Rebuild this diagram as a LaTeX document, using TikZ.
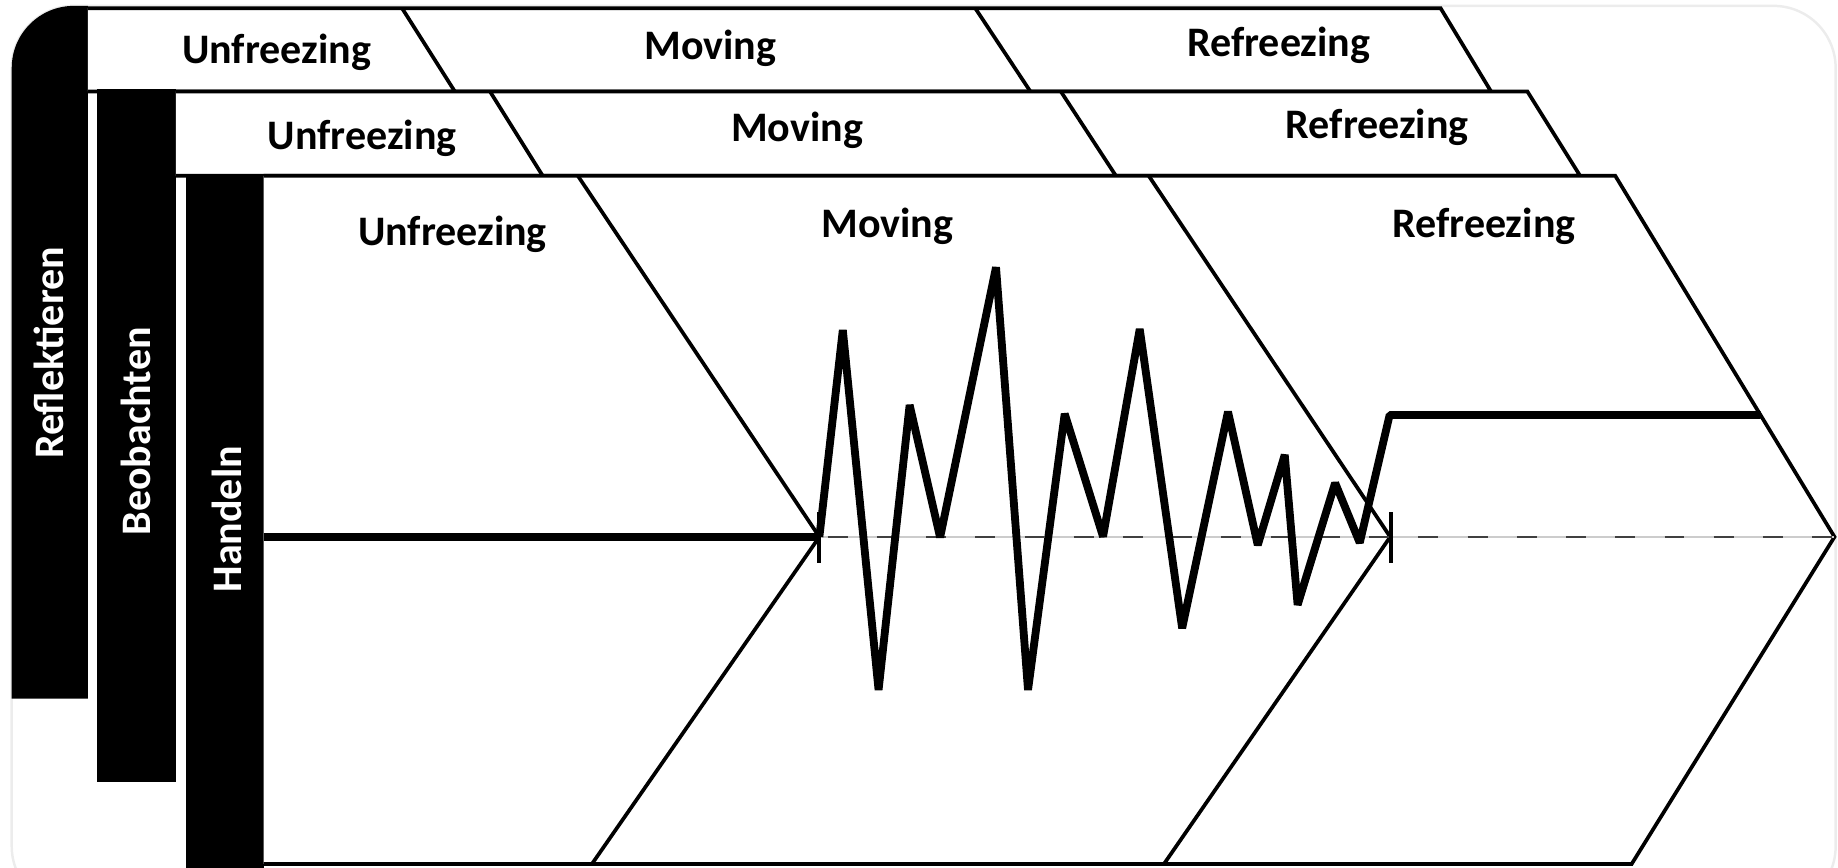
\documentclass[tikz,border=0pt]{standalone}
\usepackage{fontspec}
\setmainfont{Carlito}

\begin{document}
\begin{tikzpicture}[
  x=0.1mm, y=-0.1mm,
  every node/.style={font=\fontsize{10.2}{12}\selectfont\bfseries, inner sep=0pt},
  panel/.style={draw=black, fill=white, line width=0.9pt},
  edge/.style={draw=black, line width=0.9pt},
  barlabel/.style={text=white, rotate=90},
  zigzag/.style={line width=1.9pt, line join=bevel},
]
  \useasboundingbox (0,0) rectangle (1568,740);

  % Frame
  \draw[gray!15, line width=0.6pt, rounded corners=5.3mm] (10,5) rectangle (1566,775);

  % Reflektieren layer
  \fill (75,596) -- (10,596) -- (10,58) arc[start angle=180, end angle=90, radius=5.3mm]
    -- (75,5) -- cycle;
  \draw[panel] (75,7) -- (1229,7) -- (1272,78) -- (75,78);
  \draw[edge] (343,7) -- (388,78);
  \draw[edge] (832,7) -- (879,78);
  \node[barlabel] (refl) at (42,301) {Reflektieren};
  \node (unf1) at (236,45) {Unfreezing};
  \node (mov1) at (606,41) {Moving};
  \node (ref1) at (1091,39) {Refreezing};

  % Beobachten layer
  \fill (83,76) rectangle (150,667);
  \draw[panel] (150,78) -- (1303,78) -- (1348,150) -- (150,150);
  \draw[edge] (418,78) -- (463,150);
  \draw[edge] (905,78) -- (952,150);
  \node[barlabel] (beob) at (116,368) {Beobachten};
  \node (unf2) at (309,118) {Unfreezing};
  \node (mov2) at (680,111) {Moving};
  \node (ref2) at (1175,109) {Refreezing};

  % Handeln layer
  \fill (159,148.5) rectangle (225,745);
  \draw[panel] (225,150) -- (1378,150) -- (1565,458) -- (1392,737) -- (225,737);
  \draw[edge] (493,150) -- (699,458) -- (505,737);
  \draw[edge] (980,150) -- (1186,458) -- (993,737);
  \draw[line width=1.8pt] (225,458) -- (699,458);
  \node[barlabel] (hand) at (194,443) {Handeln};
  \node (unf3) at (386,200) {Unfreezing};
  \node (mov3) at (757,193) {Moving};
  \node (ref3) at (1266,193) {Refreezing};

  % Axis with ticks
  \draw[gray!40, line width=0.4pt] (699,458) -- (1565,458);
  \draw[black!75, line width=0.6pt, dash pattern=on 1.7mm off 2.5mm] (706,458) -- (1565,458);
  \draw[line width=1pt] (699,437) -- (699,480);
  \draw[line width=1pt] (1187,437) -- (1187,480);

  % Change curve
  \draw[zigzag] (699,458) -- (719,281.5) -- (749.5,588.6) -- (776,345.5) -- (802,458.4)
    -- (849.7,228) -- (877,588.6) -- (908.3,353) -- (941,457.8) -- (972.3,280.7)
    -- (1008.5,535.9) -- (1047.6,351.2) -- (1073,465) -- (1096,388) -- (1107,516)
    -- (1139,412) -- (1160,463) -- (1185.5,354) -- (1502,354);
\end{tikzpicture}
\end{document}
